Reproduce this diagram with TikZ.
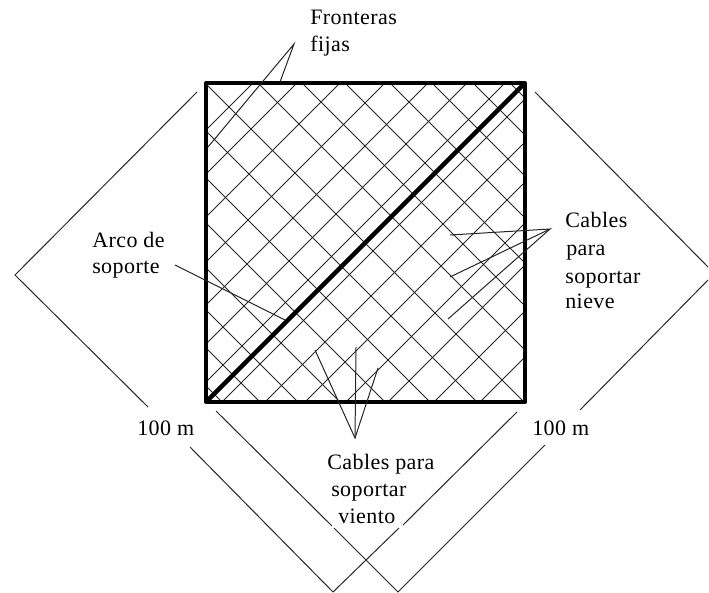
\documentclass[tikz,border=0pt]{standalone}
\usepackage{fontspec}
\setmainfont[LetterSpace=2]{Liberation Serif}
\tikzset{
  thinline/.style={draw=black!85,line width=0.75pt},
  frameline/.style={draw=black,line width=3pt,line join=round},
  archline/.style={draw=black,line width=3.2pt},
  label/.style={anchor=base west,inner sep=0pt,font=\fontsize{16.5}{18}\selectfont}
}
\begin{document}
\begin{tikzpicture}[x=0.75pt,y=-0.75pt]
\useasboundingbox (0,0) rectangle (709,592);
\begin{scope}
\clip (206,83) rectangle (525,402);
\foreach \s in {336,380,423,468,511,550,588,624,667,707,748,790,836,882}
  \draw[thinline] (\s,0) -- (0,\s);
\foreach \d in {-180,-142,-104,-62,-17,28,75,122,175,219,262,307,349,390,427}
  \draw[thinline] (\d+500,500) -- (\d,0);
\end{scope}
\coordinate (sqTL) at (206,83);
\coordinate (sqBR) at (525,402);
\coordinate (archA) at (207,401);
\coordinate (archB) at (524,84);
\draw[archline] (archA) -- (archB);
\draw[frameline] (sqTL) rectangle (sqBR);
% text
\node[label] (fron) at (310,25) {Fronteras};
\node[label] (fija) at (310,52) {fijas};
\node[label] (arco) at (92,247) {Arco de};
\node[label] (sopo) at (92,273) {soporte};
\node[label] (cien) at (137,435) {100 m};
\node[label] (ciend) at (532,435) {100 m};
\node[label] (vi1) at (327,469) {Cables para};
\node[label] (vi2) at (331,496) {soportar};
\node[label] (vi3) at (338,523) {viento};
\node[label] (ni1) at (565,227) {Cables};
\node[label] (ni2) at (566,255) {para};
\node[label] (ni3) at (565,283) {soportar};
\node[label] (ni4) at (565,308) {nieve};
% pointers
\coordinate (fa) at (294,44);
\coordinate (f1) at (208,147);
\coordinate (f2) at (280,82);
\draw[thinline] (f1) -- (fa) -- (f2);
\coordinate (aa) at (175,265);
\coordinate (ab) at (285,320);
\draw[thinline] (aa) -- (ab);
\coordinate (na) at (550,229);
\coordinate (n1) at (450,235);
\coordinate (n2) at (450,277);
\coordinate (n3) at (448,319);
\draw[thinline] (n1) -- (na) -- (n2);
\draw[thinline] (na) -- (n3);
\coordinate (va) at (355,438);
\coordinate (v1) at (315,350);
\coordinate (v2) at (356,347);
\coordinate (v3) at (378,368);
\draw[thinline] (v1) -- (va) -- (v3);
\draw[thinline] (va) -- (v2);
% dimension lines
\coordinate (la) at (15,275);
\coordinate (l1) at (197,92);
\coordinate (l2) at (148,407);
\draw[thinline] (l1) -- (la) -- (l2);
\coordinate (b1a) at (333,592);
\coordinate (b1b) at (190,447);
\coordinate (b1c) at (399,528);
\coordinate (b1d) at (403,525);
\coordinate (b1e) at (517,412);
\draw[thinline] (b1b) -- (b1a) -- (b1c);
\draw[thinline] (b1d) -- (b1e);
\coordinate (b2a) at (398,592);
\coordinate (b2b) at (216,411);
\coordinate (b2c) at (332,526);
\coordinate (b2d) at (334,528);
\coordinate (b2e) at (545,445);
\draw[thinline] (b2b) -- (b2c);
\draw[thinline] (b2d) -- (b2a) -- (b2e);
\coordinate (ra) at (535,92);
\coordinate (rb) at (708,267);
\coordinate (rc) at (708,280);
\coordinate (rd) at (580,410);
\draw[thinline] (ra) -- (rb);
\draw[thinline] (rc) -- (rd);
\end{tikzpicture}
\end{document}
